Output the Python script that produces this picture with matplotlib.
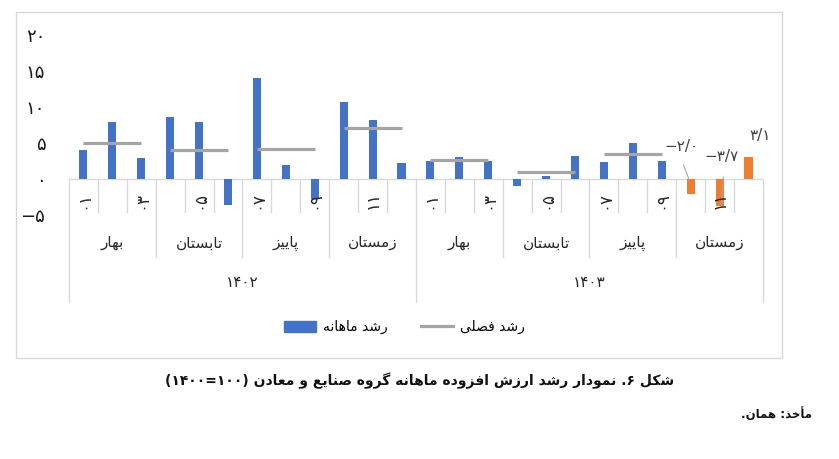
import numpy as np
import matplotlib
matplotlib.use('Agg')
import matplotlib.pyplot as plt
from matplotlib.patches import Rectangle, Patch
from matplotlib.lines import Line2D

# --- data ---
years = ['۱۴۰۲', '۱۴۰۳']
seasons = ['بهار', 'تابستان', 'پاییز', 'زمستان']
month_labels = ['۰۱', '', '۰۳', '', '۰۵', '', '۰۷', '', '۰۹', '', '۱۱', '']
monthly = [4.1, 8.0, 3.0, 8.6, 7.9, -3.6, 14.1, 2.0, -2.7, 10.8, 8.3, 2.2,
           2.5, 3.1, 2.6, -1.0, 0.5, 3.3, 2.4, 5.0, 2.6]
estimated = [-2.0, -3.7, 3.1]
seasonal = [5.0, 4.0, 4.2, 7.1, 2.7, 1.0, 3.5]
legend_bar = 'رشد ماهانه'
legend_line = 'رشد فصلی'
title = 'شکل ۶. نمودار رشد ارزش افزوده ماهانه گروه صنایع و معادن (۱۰۰=۱۴۰۰)'
source = 'مأخذ: همان.'

# --- minimal persian shaping + bidi (no reshaper available) ---
FORMS = {
    'ا': ('\uFE8D', '\uFE8E', None, None),
    'أ': ('\uFE83', '\uFE84', None, None),
    'ب': ('\uFE8F', '\uFE90', '\uFE91', '\uFE92'),
    'پ': ('\uFB56', '\uFB57', '\uFB58', '\uFB59'),
    'ت': ('\uFE95', '\uFE96', '\uFE97', '\uFE98'),
    'خ': ('\uFEA5', '\uFEA6', '\uFEA7', '\uFEA8'),
    'د': ('\uFEA9', '\uFEAA', None, None),
    'ذ': ('\uFEAB', '\uFEAC', None, None),
    'ر': ('\uFEAD', '\uFEAE', None, None),
    'ز': ('\uFEAF', '\uFEB0', None, None),
    'س': ('\uFEB1', '\uFEB2', '\uFEB3', '\uFEB4'),
    'ش': ('\uFEB5', '\uFEB6', '\uFEB7', '\uFEB8'),
    'ص': ('\uFEB9', '\uFEBA', '\uFEBB', '\uFEBC'),
    'ع': ('\uFEC9', '\uFECA', '\uFECB', '\uFECC'),
    'ف': ('\uFED1', '\uFED2', '\uFED3', '\uFED4'),
    'ک': ('\uFB8E', '\uFB8F', '\uFB90', '\uFB91'),
    'گ': ('\uFB92', '\uFB93', '\uFB94', '\uFB95'),
    'ل': ('\uFEDD', '\uFEDE', '\uFEDF', '\uFEE0'),
    'م': ('\uFEE1', '\uFEE2', '\uFEE3', '\uFEE4'),
    'ن': ('\uFEE5', '\uFEE6', '\uFEE7', '\uFEE8'),
    'ه': ('\uFEE9', '\uFEEA', '\uFEEB', '\uFEEC'),
    'و': ('\uFEED', '\uFEEE', None, None),
    'ی': ('\uFBFC', '\uFBFD', '\uFBFE', '\uFBFF'),
}
FA_DIGITS = '۰۱۲۳۴۵۶۷۸۹'
MIRROR = {'(': ')', ')': '('}


def fa(text):
    out = []
    for i, c in enumerate(text):
        if c not in FORMS:
            out.append(c)
            continue
        prev = text[i - 1] if i > 0 else ''
        nxt = text[i + 1] if i + 1 < len(text) else ''
        jp = prev in FORMS and FORMS[prev][2] is not None
        jn = nxt in FORMS and FORMS[c][2] is not None
        iso, fin, ini, med = FORMS[c]
        out.append(med if jp and jn else fin if jp else ini if jn else iso)
    s = ''.join(out)[::-1]
    res, run = [], ''
    for c in s:
        if c in FA_DIGITS or c.isdigit():
            run += c
        else:
            res.append(run[::-1])
            run = ''
            res.append(MIRROR.get(c, c))
    res.append(run[::-1])
    return ''.join(res)


def fa_num(v, dec=0):
    s = f'{abs(v):.{dec}f}'.replace('.', '/')
    s = ''.join(FA_DIGITS[int(c)] if c.isdigit() else c for c in s)
    return ('−' + s) if v < 0 else s


plt.rcParams['font.family'] = ['DejaVu Sans']

fig = plt.figure(figsize=(8.39, 4.59), dpi=100)
ax = fig.add_axes([0.0822, 0.531, 0.8272, 0.392])

n = 24
x = np.arange(n)
ax.bar(x[:len(monthly)], monthly, width=0.28, color='#4472C4')
ax.bar(x[len(monthly):], estimated, width=0.28, color='#ED7D31')
for s, v in enumerate(seasonal):
    ax.plot([3 * s, 3 * s + 2], [v, v], color='#A5A5A5', lw=2.3, solid_capstyle='butt')

ax.axhline(0, color='#D9D9D9', lw=1, zorder=0)
ax.set_xlim(-0.5, n - 0.5)
ax.set_ylim(-5, 20)
ax.set_yticks([-5, 0, 5, 10, 15, 20])
ax.set_yticklabels([fa_num(t) for t in [-5, 0, 5, 10, 15, 20]], fontsize=13, color='#1a1a1a')
ax.tick_params(axis='y', length=0, pad=17)
ax.set_xticks([])
for sp in ax.spines.values():
    sp.set_visible(False)

# multi level category axis
for k in range(n + 1):
    if k % 12 == 0:
        bot = -17.0
    elif k % 3 == 0:
        bot = -10.8
    else:
        bot = -4.54
    ax.plot([k - 0.5, k - 0.5], [0, bot], color='#D9D9D9', lw=1, clip_on=False)
for i in range(n):
    lab = month_labels[i % 12]
    if lab:
        ax.text(i, -2.9, lab, rotation=90, ha='center', va='center', fontsize=12,
                color='#262626', clip_on=False)
for q in range(8):
    ax.text(3 * q + 1, -8.85, fa(seasons[q % 4]), ha='center', va='center',
            fontsize=11, color='#262626', clip_on=False)
for yi, yr in enumerate(years):
    ax.text(12 * yi + 5.5, -14.3, yr, ha='center', va='center', fontsize=11,
            color='#262626', clip_on=False)

# labels on the estimated bars
lab_pos = [(20.68, 4.6), (22.06, 3.1), (23.41, 6.15)]
leaders = [((20.75, 2.0), (20.95, -0.1)), ((22.13, 0.3), (22.06, -3.85)), None]
for v, (lx, ly), ld in zip(estimated, lab_pos, leaders):
    ax.text(lx, ly, fa_num(v, 1), ha='center', va='center', fontsize=11, color='#404040')
    if ld:
        ax.plot([ld[0][0], ld[1][0]], [ld[0][1], ld[1][1]], color='#A6A6A6', lw=0.8)

handles = [Patch(color='#4472C4'), Line2D([], [], color='#A5A5A5', lw=2.3)]
fig.legend(handles, [fa(legend_bar), fa(legend_line)], loc='center',
           bbox_to_anchor=(0.482, 0.2876), ncol=2, frameon=False, fontsize=10,
           handlelength=2.3, handleheight=0.86, handletextpad=0.5, columnspacing=2.4)

fig.patches.append(Rectangle((0.0191, 0.220), 0.913, 0.754, transform=fig.transFigure,
                             fill=False, edgecolor='#D9D9D9', lw=1))
fig.text(0.5006, 1 - 381 / 459, fa(title), ha='center', va='center', fontsize=10,
         fontweight='bold', color='#111111')
fig.text(812 / 839, 1 - 414 / 459, fa(source), ha='right', va='center', fontsize=8.5,
         fontweight='bold', color='#111111')

fig.savefig('out.png', dpi=100)
